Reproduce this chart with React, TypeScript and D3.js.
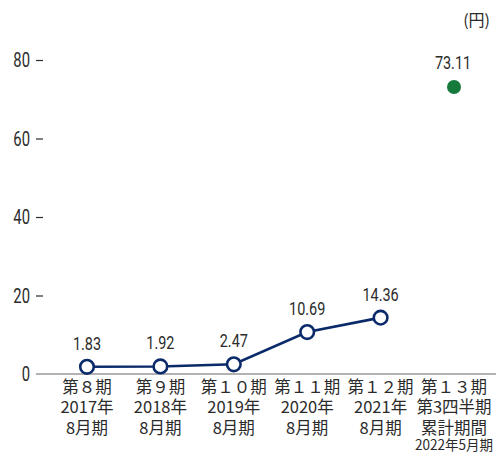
import * as d3 from 'd3';
import { useEffect, useRef } from 'react';

const categories = ['p8', 'p9', 'p10', 'p11', 'p12', 'p13'];
const labelLines = [
  ['第８期', '2017年', '8月期'],
  ['第９期', '2018年', '8月期'],
  ['第１０期', '2019年', '8月期'],
  ['第１１期', '2020年', '8月期'],
  ['第１２期', '2021年', '8月期'],
  ['第１３期', '第3四半期', '累計期間', '2022年5月期'],
];
const annualValues = [1.83, 1.92, 2.47, 10.69, 14.36];
const quarterValue = 73.11;
const yTicks = [0, 20, 40, 60, 80];

const width = 500;
const height = 452;
const navy = '#0b2a6a';
const green = '#157a3c';
const textColor = '#2b2b2b';
const numFont = 'Roboto, "Noto Sans", sans-serif';
const cjkFont = '"Noto Sans CJK JP", sans-serif';
const squeeze = 0.76; // condensed look for the numbers

const App = () => {
  const ref = useRef<SVGSVGElement | null>(null);

  useEffect(() => {
    if (!ref.current) return;
    const svg = d3.select(ref.current);
    svg.selectAll('*').remove();

    const x = d3.scalePoint<string>().domain(categories).range([87, 454]);
    const y = d3.scaleLinear().domain([0, 80]).range([374, 60]);

    const numText = (
      g: d3.Selection<any, unknown, null, undefined>,
      tx: number,
      ty: number,
      anchor: string,
      size: number,
      str: string
    ) =>
      g
        .append('text')
        .attr('transform', `translate(${tx},${ty}) scale(${squeeze},1)`)
        .attr('text-anchor', anchor)
        .attr('font-family', numFont)
        .attr('font-size', size)
        .attr('fill', textColor)
        .text(str);

    // y ticks
    const yAxis = svg.append('g');
    yTicks.forEach((t) => {
      numText(yAxis, 30, y(t) + 7, 'end', 19.5, String(t));
    });
    yAxis
      .selectAll('line')
      .data(yTicks.filter((d) => d > 0))
      .join('line')
      .attr('x1', 36)
      .attr('x2', 43)
      .attr('y1', (d) => y(d) + 0.5)
      .attr('y2', (d) => y(d) + 0.5)
      .attr('stroke', textColor)
      .attr('stroke-width', 1.2);

    // baseline
    svg
      .append('line')
      .attr('x1', 36)
      .attr('x2', 496)
      .attr('y1', y(0))
      .attr('y2', y(0))
      .attr('stroke', '#666')
      .attr('stroke-width', 1.2);

    // unit
    svg
      .append('text')
      .attr('x', 490)
      .attr('y', 26)
      .attr('text-anchor', 'end')
      .attr('font-family', cjkFont)
      .attr('font-size', 16)
      .attr('fill', textColor)
      .text('(円)');

    // x labels
    const xl = svg.append('g');
    labelLines.forEach((lines, i) => {
      const cx = x(categories[i])!;
      lines.forEach((ln, j) => {
        const small = j === 3;
        xl.append('text')
          .attr('x', cx)
          .attr('y', small ? 449.5 : 392.5 + j * 20.5)
          .attr('text-anchor', 'middle')
          .attr('font-family', cjkFont)
          .attr('font-size', small ? 14 : 16.5)
          .attr('fill', textColor)
          .attr('textLength', small ? 78 : null)
          .attr('lengthAdjust', small ? 'spacingAndGlyphs' : null)
          .text(ln);
      });
    });

    const annualData = annualValues.map((v, i) => ({ cat: categories[i], v }));

    const line = d3
      .line<{ cat: string; v: number }>()
      .x((d) => x(d.cat)!)
      .y((d) => y(d.v));

    svg
      .append('path')
      .datum(annualData)
      .attr('d', line)
      .attr('fill', 'none')
      .attr('stroke', navy)
      .attr('stroke-width', 2.6);

    svg
      .append('g')
      .selectAll('circle')
      .data(annualData)
      .join('circle')
      .attr('cx', (d) => x(d.cat)!)
      .attr('cy', (d) => y(d.v))
      .attr('r', 6.8)
      .attr('fill', '#fff')
      .attr('stroke', navy)
      .attr('stroke-width', 2.6);

    const labels = svg.append('g');
    annualData.forEach((d) => {
      numText(labels, x(d.cat)!, y(d.v) - 17, 'middle', 19, d.v.toFixed(2));
    });

    // quarter point
    const qx = x(categories[5])!;
    svg
      .append('circle')
      .attr('cx', qx)
      .attr('cy', y(quarterValue))
      .attr('r', 7)
      .attr('fill', green);
    numText(svg as any, qx - 1, y(quarterValue) - 18, 'middle', 19, quarterValue.toFixed(2));
  }, []);

  return (
    <svg
      ref={ref}
      width={width}
      height={height}
      style={{ position: 'absolute', left: 0, top: 0, background: '#fff' }}
    />
  );
};

export default App;
